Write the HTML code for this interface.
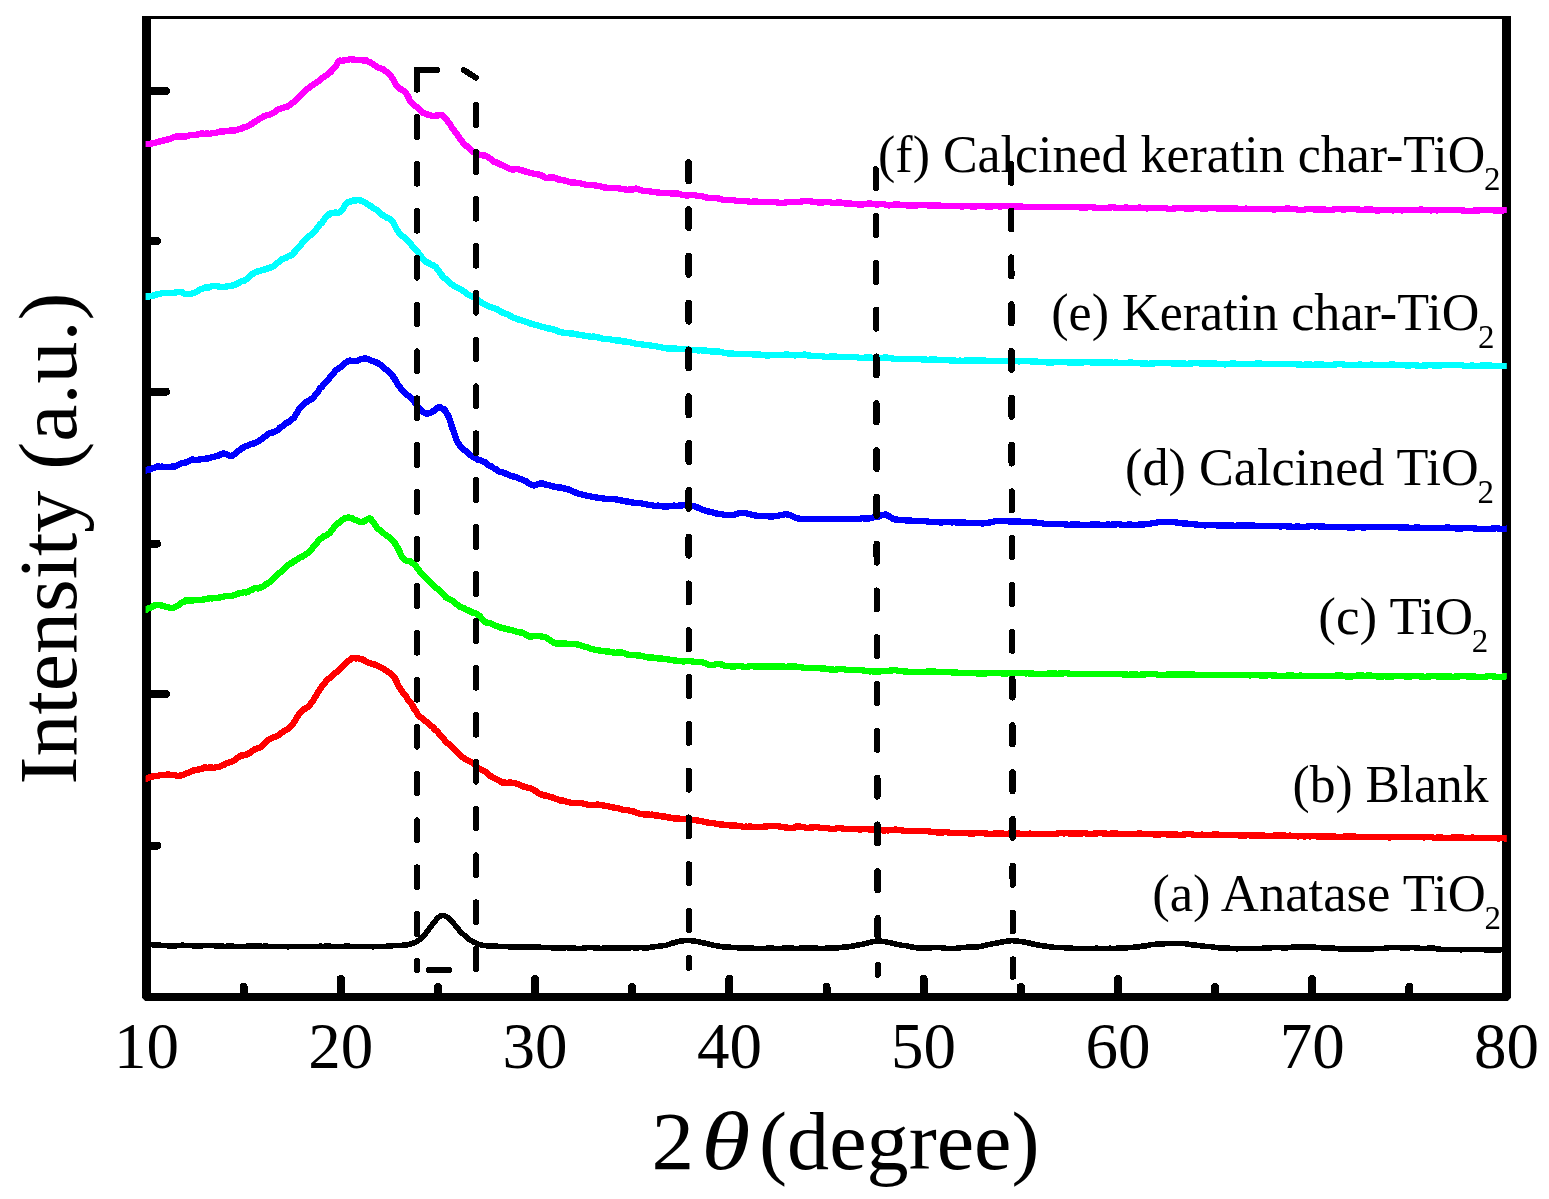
<!DOCTYPE html>
<html lang="en"><head><meta charset="utf-8"><title>XRD patterns</title>
<style>html,body{margin:0;padding:0;background:#fff}svg{display:block}</style></head>
<body>
<svg width="1549" height="1199" viewBox="0 0 1549 1199">
<rect width="1549" height="1199" fill="#fff"/>
<g fill="#000" shape-rendering="crispEdges">
<rect x="142" y="16" width="9" height="985"/>
<rect x="1502" y="16" width="9" height="985"/>
<rect x="142" y="16" width="1369" height="3"/>
<rect x="142" y="993" width="1369" height="8"/>
</g>
<path d="M142 1001h3.2l-3.2 -3.2z M1511 1001h-3.2l3.2 -3.2z" fill="#fff"/>
<g stroke="#000" stroke-width="8" stroke-linecap="round" fill="none" shape-rendering="crispEdges">
<line x1="243.6" y1="996" x2="243.6" y2="987"/>
<line x1="340.8" y1="996" x2="340.8" y2="979"/>
<line x1="437.9" y1="996" x2="437.9" y2="987"/>
<line x1="535.1" y1="996" x2="535.1" y2="979"/>
<line x1="632.2" y1="996" x2="632.2" y2="987"/>
<line x1="729.4" y1="996" x2="729.4" y2="979"/>
<line x1="826.5" y1="996" x2="826.5" y2="987"/>
<line x1="923.6" y1="996" x2="923.6" y2="979"/>
<line x1="1020.8" y1="996" x2="1020.8" y2="987"/>
<line x1="1117.9" y1="996" x2="1117.9" y2="979"/>
<line x1="1215.1" y1="996" x2="1215.1" y2="987"/>
<line x1="1312.2" y1="996" x2="1312.2" y2="979"/>
<line x1="1409.4" y1="996" x2="1409.4" y2="987"/>
<line x1="148" y1="91" x2="166" y2="91"/>
<line x1="148" y1="241" x2="157" y2="241"/>
<line x1="148" y1="391.7" x2="166" y2="391.7"/>
<line x1="148" y1="543.7" x2="157" y2="543.7"/>
<line x1="148" y1="694.2" x2="166" y2="694.2"/>
<line x1="148" y1="845.6" x2="157" y2="845.6"/>
</g>
<clipPath id="cp"><rect x="145.6" y="0" width="1361.2" height="1199"/></clipPath><clipPath id="cpa"><rect x="145.6" y="0" width="1357.4" height="1199"/></clipPath>
<polyline points="142.0,944.3 146.0,944.3 148.0,944.3 150.0,944.4 152.0,944.7 154.0,944.8 156.0,944.8 158.0,945.0 160.0,945.2 162.0,945.4 164.0,945.3 166.0,945.6 168.0,945.8 170.0,945.8 172.0,945.7 174.0,945.7 176.0,945.8 178.0,945.6 180.0,945.4 182.0,945.2 184.0,945.3 186.0,945.4 188.0,945.4 190.0,945.3 192.0,945.7 194.0,945.8 196.0,945.9 198.0,945.9 200.0,945.7 202.0,945.8 204.0,945.5 206.0,945.5 208.0,945.3 210.0,945.4 212.0,945.5 214.0,945.7 216.0,946.0 218.0,946.0 220.0,946.3 222.0,946.2 224.0,946.3 226.0,946.3 228.0,946.1 230.0,946.2 232.0,946.2 234.0,946.3 236.0,946.3 238.0,946.5 240.0,946.6 242.0,946.5 244.0,946.3 246.0,946.3 248.0,946.2 250.0,945.8 252.0,945.9 254.0,946.0 256.0,946.2 258.0,946.1 260.0,946.1 262.0,946.4 264.0,946.2 266.0,946.1 268.0,946.4 270.0,946.5 272.0,946.6 274.0,946.6 276.0,946.6 278.0,946.6 280.0,946.5 282.0,946.4 284.0,946.4 286.0,946.5 288.0,946.8 290.0,946.6 292.0,946.4 294.0,946.4 296.0,946.5 298.0,946.4 300.0,946.4 302.0,946.4 304.0,946.4 306.0,946.6 308.0,946.5 310.0,946.3 312.0,946.3 314.0,946.5 316.0,946.6 318.0,946.5 320.0,946.2 322.0,946.3 324.0,946.3 326.0,946.2 328.0,946.1 330.0,946.2 332.0,946.5 334.0,946.5 336.0,946.5 338.0,946.4 340.0,946.4 342.0,946.5 344.0,946.3 346.0,946.2 348.0,946.1 350.0,946.3 352.0,946.4 354.0,946.5 356.0,946.6 358.0,946.7 360.0,946.6 362.0,946.4 364.0,946.5 366.0,946.4 368.0,946.4 370.0,946.5 372.0,946.7 374.0,946.7 376.0,946.5 378.0,946.5 380.0,946.5 382.0,946.4 384.0,946.4 386.0,946.3 388.0,946.2 390.0,946.0 392.0,945.9 394.0,945.6 396.0,945.5 398.0,945.7 400.0,945.6 402.0,945.4 404.0,945.0 406.0,945.1 408.0,944.7 410.0,944.1 412.0,943.5 414.0,942.8 416.0,942.1 418.0,940.8 420.0,939.3 422.0,937.4 424.0,935.4 426.0,933.2 428.0,930.4 430.0,927.8 432.0,925.0 434.0,922.5 436.0,920.0 438.0,917.9 440.0,916.2 442.0,915.5 444.0,915.7 446.0,916.3 448.0,917.5 450.0,919.3 452.0,921.6 454.0,923.9 456.0,926.3 458.0,928.6 460.0,931.2 462.0,933.1 464.0,935.0 466.0,936.8 468.0,938.4 470.0,939.9 472.0,940.9 474.0,942.2 476.0,943.0 478.0,944.0 480.0,944.7 482.0,945.2 484.0,945.4 486.0,945.6 488.0,946.0 490.0,945.9 492.0,946.0 494.0,946.0 496.0,946.1 498.0,946.4 500.0,946.4 502.0,946.5 504.0,946.5 506.0,946.6 508.0,946.7 510.0,946.8 512.0,947.0 514.0,947.1 516.0,947.2 518.0,947.3 520.0,947.1 522.0,947.1 524.0,947.0 526.0,947.0 528.0,946.9 530.0,946.7 532.0,947.0 534.0,947.0 536.0,947.2 538.0,947.2 540.0,947.2 542.0,947.5 544.0,947.5 546.0,947.7 548.0,947.6 550.0,947.6 552.0,947.8 554.0,947.9 556.0,947.8 558.0,947.8 560.0,947.8 562.0,948.1 564.0,948.0 566.0,947.6 568.0,947.9 570.0,947.8 572.0,948.1 574.0,948.2 576.0,948.3 578.0,948.5 580.0,948.4 582.0,948.3 584.0,948.0 586.0,947.8 588.0,947.4 590.0,947.5 592.0,947.6 594.0,947.9 596.0,948.1 598.0,948.1 600.0,948.4 602.0,948.3 604.0,948.2 606.0,947.8 608.0,947.8 610.0,948.0 612.0,947.8 614.0,947.9 616.0,948.1 618.0,948.3 620.0,948.2 622.0,948.0 624.0,948.0 626.0,948.0 628.0,948.0 630.0,947.8 632.0,947.6 634.0,947.8 636.0,947.7 638.0,947.8 640.0,947.6 642.0,947.7 644.0,947.9 646.0,947.7 648.0,947.8 650.0,947.4 652.0,947.1 654.0,946.8 656.0,946.5 658.0,946.3 660.0,946.2 662.0,945.9 664.0,945.6 666.0,945.3 668.0,944.6 670.0,944.0 672.0,943.2 674.0,942.8 676.0,942.2 678.0,941.7 680.0,941.2 682.0,940.9 684.0,940.7 686.0,940.5 688.0,940.4 690.0,940.4 692.0,940.9 694.0,940.9 696.0,941.4 698.0,941.7 700.0,942.0 702.0,942.6 704.0,943.0 706.0,943.4 708.0,944.0 710.0,944.4 712.0,944.9 714.0,945.3 716.0,945.5 718.0,946.2 720.0,946.3 722.0,946.7 724.0,947.1 726.0,947.1 728.0,947.2 730.0,947.2 732.0,947.4 734.0,947.5 736.0,947.6 738.0,947.8 740.0,948.0 742.0,947.7 744.0,947.8 746.0,947.7 748.0,947.7 750.0,947.8 752.0,947.7 754.0,948.3 756.0,948.4 758.0,948.6 760.0,948.4 762.0,948.4 764.0,948.5 766.0,948.3 768.0,948.0 770.0,948.0 772.0,948.2 774.0,948.3 776.0,948.3 778.0,948.5 780.0,948.6 782.0,948.3 784.0,948.2 786.0,948.1 788.0,948.3 790.0,948.1 792.0,948.1 794.0,948.3 796.0,948.4 798.0,948.4 800.0,948.2 802.0,948.2 804.0,948.2 806.0,948.2 808.0,948.0 810.0,948.1 812.0,948.1 814.0,948.2 816.0,948.1 818.0,948.3 820.0,948.6 822.0,948.4 824.0,948.4 826.0,948.2 828.0,948.3 830.0,948.1 832.0,948.1 834.0,948.1 836.0,947.7 838.0,947.9 840.0,947.6 842.0,947.4 844.0,947.1 846.0,947.0 848.0,947.0 850.0,946.4 852.0,946.2 854.0,945.8 856.0,945.4 858.0,945.1 860.0,944.7 862.0,944.5 864.0,943.7 866.0,943.3 868.0,943.0 870.0,942.4 872.0,941.8 874.0,941.4 876.0,941.3 878.0,941.1 880.0,941.1 882.0,941.3 884.0,941.5 886.0,941.9 888.0,942.4 890.0,942.7 892.0,943.0 894.0,943.6 896.0,944.1 898.0,944.6 900.0,944.9 902.0,945.4 904.0,945.6 906.0,945.7 908.0,946.2 910.0,946.6 912.0,947.0 914.0,947.3 916.0,947.7 918.0,947.8 920.0,947.8 922.0,947.8 924.0,947.7 926.0,947.8 928.0,947.8 930.0,947.7 932.0,947.7 934.0,947.5 936.0,947.5 938.0,947.5 940.0,947.6 942.0,947.8 944.0,948.0 946.0,948.4 948.0,948.4 950.0,948.4 952.0,948.5 954.0,948.4 956.0,948.3 958.0,947.9 960.0,947.8 962.0,947.6 964.0,947.5 966.0,947.3 968.0,947.1 970.0,947.2 972.0,947.3 974.0,947.2 976.0,947.0 978.0,946.8 980.0,946.5 982.0,946.1 984.0,945.6 986.0,945.1 988.0,944.7 990.0,944.3 992.0,943.8 994.0,943.4 996.0,943.2 998.0,942.9 1000.0,942.4 1002.0,942.0 1004.0,941.7 1006.0,941.3 1008.0,940.8 1010.0,940.9 1012.0,940.6 1014.0,940.8 1016.0,940.9 1018.0,941.1 1020.0,941.5 1022.0,941.7 1024.0,942.2 1026.0,942.3 1028.0,942.9 1030.0,943.2 1032.0,943.9 1034.0,944.2 1036.0,944.6 1038.0,945.1 1040.0,945.4 1042.0,945.7 1044.0,945.8 1046.0,946.1 1048.0,946.5 1050.0,946.8 1052.0,947.0 1054.0,947.5 1056.0,947.4 1058.0,947.4 1060.0,947.5 1062.0,947.6 1064.0,947.7 1066.0,947.8 1068.0,947.9 1070.0,948.2 1072.0,948.2 1074.0,948.5 1076.0,948.7 1078.0,948.6 1080.0,948.7 1082.0,948.5 1084.0,948.6 1086.0,948.6 1088.0,948.3 1090.0,948.5 1092.0,948.4 1094.0,948.4 1096.0,948.2 1098.0,948.3 1100.0,948.4 1102.0,948.3 1104.0,948.4 1106.0,948.5 1108.0,948.5 1110.0,948.2 1112.0,948.4 1114.0,948.3 1116.0,948.3 1118.0,948.1 1120.0,948.2 1122.0,948.1 1124.0,947.9 1126.0,947.8 1128.0,947.7 1130.0,947.4 1132.0,947.4 1134.0,947.2 1136.0,947.1 1138.0,947.0 1140.0,946.7 1142.0,946.2 1144.0,946.0 1146.0,945.9 1148.0,945.4 1150.0,944.8 1152.0,944.5 1154.0,944.6 1156.0,944.2 1158.0,943.8 1160.0,943.7 1162.0,943.8 1164.0,943.8 1166.0,943.5 1168.0,943.4 1170.0,943.5 1172.0,943.6 1174.0,943.4 1176.0,943.3 1178.0,943.3 1180.0,943.5 1182.0,943.4 1184.0,943.5 1186.0,943.8 1188.0,944.2 1190.0,944.6 1192.0,944.8 1194.0,945.0 1196.0,945.2 1198.0,945.6 1200.0,945.7 1202.0,945.9 1204.0,946.2 1206.0,946.5 1208.0,946.7 1210.0,946.5 1212.0,946.9 1214.0,947.2 1216.0,947.5 1218.0,947.6 1220.0,948.0 1222.0,948.2 1224.0,948.3 1226.0,948.2 1228.0,948.2 1230.0,948.3 1232.0,948.4 1234.0,948.5 1236.0,948.7 1238.0,948.7 1240.0,948.6 1242.0,948.6 1244.0,948.3 1246.0,948.4 1248.0,948.3 1250.0,948.4 1252.0,948.5 1254.0,948.5 1256.0,948.6 1258.0,948.4 1260.0,948.4 1262.0,948.3 1264.0,948.1 1266.0,948.1 1268.0,948.0 1270.0,947.9 1272.0,947.7 1274.0,947.6 1276.0,947.7 1278.0,947.6 1280.0,947.6 1282.0,947.8 1284.0,948.0 1286.0,947.9 1288.0,947.7 1290.0,947.4 1292.0,947.2 1294.0,947.0 1296.0,947.0 1298.0,946.9 1300.0,947.0 1302.0,947.1 1304.0,947.2 1306.0,947.2 1308.0,947.2 1310.0,947.2 1312.0,947.2 1314.0,947.2 1316.0,947.3 1318.0,947.4 1320.0,947.4 1322.0,947.8 1324.0,947.9 1326.0,947.9 1328.0,948.0 1330.0,948.0 1332.0,948.2 1334.0,948.2 1336.0,948.5 1338.0,948.7 1340.0,948.8 1342.0,949.0 1344.0,949.1 1346.0,949.0 1348.0,948.9 1350.0,948.9 1352.0,949.0 1354.0,949.0 1356.0,949.0 1358.0,948.8 1360.0,949.0 1362.0,949.2 1364.0,949.3 1366.0,949.2 1368.0,949.0 1370.0,949.2 1372.0,948.9 1374.0,948.7 1376.0,948.4 1378.0,948.5 1380.0,948.6 1382.0,948.3 1384.0,948.3 1386.0,948.1 1388.0,947.9 1390.0,947.6 1392.0,947.4 1394.0,947.6 1396.0,947.3 1398.0,947.4 1400.0,947.7 1402.0,947.8 1404.0,947.8 1406.0,947.7 1408.0,947.8 1410.0,947.7 1412.0,947.6 1414.0,947.7 1416.0,948.0 1418.0,948.1 1420.0,948.4 1422.0,948.6 1424.0,948.5 1426.0,948.4 1428.0,948.2 1430.0,948.2 1432.0,948.3 1434.0,948.2 1436.0,948.7 1438.0,949.0 1440.0,949.2 1442.0,949.4 1444.0,949.4 1446.0,949.6 1448.0,949.4 1450.0,949.3 1452.0,949.3 1454.0,949.4 1456.0,949.6 1458.0,949.6 1460.0,949.7 1462.0,949.7 1464.0,949.5 1466.0,949.6 1468.0,949.3 1470.0,949.3 1472.0,949.5 1474.0,949.6 1476.0,949.6 1478.0,949.4 1480.0,949.7 1482.0,949.6 1484.0,949.7 1486.0,949.7 1488.0,949.8 1490.0,950.1 1492.0,950.0 1494.0,950.1 1496.0,949.8 1498.0,949.9 1500.0,949.8 1502.0,949.6 1502.8,949.5 1506.8,949.5" fill="none" stroke="#000000" stroke-width="5.6" stroke-linejoin="round" stroke-linecap="butt" shape-rendering="crispEdges" clip-path="url(#cpa)"/>
<polyline points="142.0,779.1 146.0,779.1 148.0,777.8 150.0,777.1 152.0,776.7 154.0,775.9 156.0,775.9 158.0,775.8 160.0,775.3 162.0,775.0 164.0,775.1 166.0,774.7 168.0,774.3 170.0,774.8 172.0,774.7 174.0,775.1 176.0,775.5 178.0,776.1 180.0,775.7 182.0,774.9 184.0,774.5 186.0,773.4 188.0,773.0 190.0,772.0 192.0,771.1 194.0,770.3 196.0,769.9 198.0,769.6 200.0,769.1 202.0,768.7 204.0,767.6 206.0,767.6 208.0,767.8 210.0,767.5 212.0,767.6 214.0,767.8 216.0,767.3 218.0,767.2 220.0,766.5 222.0,765.5 224.0,764.8 226.0,763.5 228.0,762.7 230.0,762.2 232.0,761.6 234.0,760.6 236.0,759.2 238.0,757.6 240.0,755.9 242.0,755.3 244.0,755.3 246.0,754.7 248.0,753.7 250.0,752.8 252.0,751.1 254.0,749.9 256.0,748.7 258.0,748.2 260.0,747.4 262.0,745.9 264.0,744.5 266.0,742.2 268.0,740.2 270.0,739.0 272.0,737.9 274.0,737.3 276.0,736.6 278.0,735.5 280.0,734.3 282.0,732.4 284.0,731.3 286.0,730.0 288.0,729.1 290.0,727.1 292.0,724.9 294.0,722.3 296.0,719.1 298.0,715.9 300.0,712.8 302.0,710.8 304.0,709.3 306.0,708.2 308.0,707.0 310.0,704.7 312.0,702.0 314.0,699.1 316.0,695.8 318.0,692.4 320.0,689.1 322.0,686.5 324.0,683.8 326.0,681.5 328.0,679.1 330.0,677.7 332.0,675.7 334.0,673.7 336.0,672.6 338.0,670.6 340.0,668.9 342.0,667.4 344.0,665.2 346.0,663.2 348.0,661.1 350.0,659.7 352.0,658.2 354.0,657.9 356.0,658.4 358.0,658.0 360.0,658.9 362.0,659.2 364.0,660.2 366.0,661.6 368.0,662.4 370.0,663.2 372.0,663.7 374.0,664.3 376.0,665.2 378.0,665.8 380.0,667.1 382.0,667.9 384.0,669.1 386.0,670.5 388.0,671.8 390.0,673.1 392.0,675.1 394.0,676.7 396.0,680.2 398.0,685.1 400.0,688.0 402.0,691.4 404.0,694.4 406.0,695.7 408.0,699.7 410.0,701.6 412.0,704.5 414.0,708.6 416.0,711.3 418.0,714.9 420.0,716.9 422.0,718.2 424.0,720.1 426.0,721.5 428.0,723.0 430.0,725.2 432.0,726.4 434.0,728.5 436.0,730.6 438.0,732.1 440.0,735.0 442.0,737.5 444.0,739.3 446.0,741.9 448.0,743.4 450.0,745.1 452.0,747.4 454.0,749.0 456.0,751.3 458.0,753.0 460.0,754.9 462.0,756.7 464.0,758.1 466.0,759.6 468.0,760.5 470.0,761.4 472.0,762.5 474.0,764.2 476.0,766.1 478.0,768.1 480.0,769.2 482.0,770.1 484.0,770.9 486.0,772.0 488.0,773.9 490.0,775.7 492.0,776.8 494.0,778.0 496.0,779.2 498.0,780.1 500.0,781.2 502.0,782.5 504.0,782.4 506.0,782.7 508.0,783.0 510.0,782.3 512.0,783.0 514.0,783.1 516.0,783.5 518.0,784.3 520.0,784.9 522.0,785.9 524.0,786.7 526.0,787.1 528.0,787.7 530.0,788.0 532.0,788.9 534.0,790.3 536.0,791.1 538.0,793.0 540.0,793.9 542.0,794.7 544.0,795.4 546.0,795.4 548.0,796.2 550.0,797.0 552.0,797.2 554.0,798.3 556.0,798.8 558.0,799.5 560.0,800.4 562.0,800.5 564.0,800.8 566.0,801.5 568.0,802.0 570.0,802.5 572.0,803.2 574.0,803.1 576.0,803.0 578.0,803.1 580.0,802.9 582.0,803.2 584.0,803.7 586.0,804.3 588.0,804.8 590.0,805.0 592.0,804.7 594.0,804.8 596.0,804.8 598.0,804.5 600.0,805.0 602.0,805.3 604.0,805.6 606.0,805.9 608.0,806.2 610.0,807.0 612.0,807.2 614.0,807.6 616.0,808.1 618.0,808.2 620.0,809.0 622.0,809.5 624.0,810.0 626.0,810.1 628.0,810.2 630.0,810.8 632.0,811.0 634.0,811.7 636.0,812.5 638.0,813.1 640.0,813.7 642.0,814.0 644.0,814.4 646.0,814.5 648.0,814.3 650.0,814.8 652.0,814.6 654.0,815.1 656.0,815.6 658.0,815.6 660.0,816.0 662.0,816.6 664.0,816.3 666.0,816.8 668.0,817.5 670.0,817.5 672.0,818.2 674.0,818.4 676.0,818.5 678.0,818.4 680.0,818.7 682.0,818.7 684.0,818.7 686.0,819.2 688.0,819.6 690.0,819.8 692.0,820.0 694.0,820.2 696.0,820.2 698.0,820.6 700.0,820.9 702.0,821.2 704.0,822.0 706.0,822.3 708.0,822.4 710.0,823.1 712.0,822.9 714.0,823.3 716.0,823.9 718.0,823.9 720.0,824.4 722.0,824.4 724.0,824.7 726.0,825.3 728.0,825.0 730.0,825.4 732.0,825.6 734.0,825.2 736.0,825.5 738.0,826.0 740.0,825.9 742.0,826.6 744.0,827.0 746.0,826.6 748.0,826.8 750.0,826.5 752.0,826.7 754.0,826.8 756.0,826.7 758.0,826.7 760.0,826.7 762.0,826.8 764.0,826.6 766.0,826.5 768.0,826.3 770.0,826.0 772.0,826.1 774.0,826.1 776.0,826.0 778.0,826.3 780.0,826.6 782.0,826.8 784.0,827.3 786.0,827.3 788.0,827.8 790.0,828.1 792.0,827.8 794.0,827.8 796.0,826.6 798.0,826.4 800.0,826.4 802.0,827.0 804.0,827.3 806.0,827.8 808.0,827.8 810.0,827.6 812.0,827.5 814.0,827.2 816.0,827.2 818.0,827.3 820.0,827.9 822.0,827.7 824.0,828.1 826.0,828.1 828.0,828.3 830.0,828.8 832.0,828.9 834.0,828.9 836.0,828.5 838.0,828.1 840.0,828.2 842.0,828.4 844.0,828.8 846.0,829.1 848.0,828.8 850.0,828.8 852.0,828.7 854.0,828.7 856.0,829.2 858.0,829.3 860.0,829.3 862.0,829.3 864.0,828.7 866.0,828.9 868.0,829.2 870.0,829.5 872.0,829.7 874.0,829.5 876.0,829.2 878.0,829.6 880.0,829.7 882.0,830.3 884.0,830.5 886.0,830.2 888.0,830.4 890.0,829.9 892.0,829.8 894.0,829.7 896.0,829.6 898.0,829.8 900.0,830.1 902.0,830.5 904.0,830.7 906.0,830.7 908.0,830.8 910.0,830.7 912.0,830.7 914.0,830.9 916.0,830.9 918.0,831.1 920.0,831.1 922.0,830.8 924.0,830.7 926.0,830.9 928.0,831.1 930.0,831.6 932.0,831.9 934.0,832.1 936.0,832.3 938.0,832.3 940.0,832.4 942.0,832.3 944.0,832.3 946.0,832.1 948.0,832.4 950.0,832.7 952.0,832.7 954.0,833.2 956.0,833.1 958.0,833.0 960.0,833.1 962.0,832.8 964.0,832.9 966.0,833.0 968.0,833.3 970.0,833.5 972.0,833.5 974.0,833.5 976.0,833.1 978.0,833.0 980.0,832.8 982.0,833.0 984.0,833.2 986.0,833.5 988.0,833.7 990.0,833.7 992.0,833.8 994.0,833.6 996.0,833.6 998.0,833.6 1000.0,833.5 1002.0,833.5 1004.0,833.8 1006.0,833.7 1008.0,833.7 1010.0,833.6 1012.0,833.0 1014.0,833.2 1016.0,833.3 1018.0,833.4 1020.0,833.9 1022.0,834.1 1024.0,834.0 1026.0,834.1 1028.0,833.9 1030.0,833.6 1032.0,833.8 1034.0,833.7 1036.0,833.8 1038.0,833.8 1040.0,833.8 1042.0,834.0 1044.0,833.9 1046.0,833.9 1048.0,833.9 1050.0,834.0 1052.0,833.9 1054.0,833.9 1056.0,833.7 1058.0,833.4 1060.0,833.2 1062.0,833.2 1064.0,833.4 1066.0,833.2 1068.0,833.3 1070.0,833.4 1072.0,833.4 1074.0,833.6 1076.0,833.7 1078.0,833.6 1080.0,833.4 1082.0,833.4 1084.0,833.2 1086.0,833.4 1088.0,833.8 1090.0,834.0 1092.0,833.8 1094.0,833.6 1096.0,833.3 1098.0,833.3 1100.0,833.2 1102.0,833.3 1104.0,833.5 1106.0,833.6 1108.0,833.9 1110.0,833.7 1112.0,833.5 1114.0,833.4 1116.0,833.5 1118.0,833.8 1120.0,834.0 1122.0,834.3 1124.0,834.1 1126.0,834.1 1128.0,834.3 1130.0,834.1 1132.0,834.3 1134.0,833.9 1136.0,833.8 1138.0,833.6 1140.0,833.6 1142.0,833.7 1144.0,833.8 1146.0,834.0 1148.0,834.2 1150.0,834.2 1152.0,834.1 1154.0,834.4 1156.0,834.4 1158.0,834.5 1160.0,834.4 1162.0,834.2 1164.0,834.1 1166.0,834.1 1168.0,834.6 1170.0,834.5 1172.0,834.5 1174.0,834.4 1176.0,834.4 1178.0,834.7 1180.0,834.7 1182.0,834.8 1184.0,834.4 1186.0,834.3 1188.0,834.1 1190.0,834.0 1192.0,834.4 1194.0,834.8 1196.0,835.0 1198.0,835.0 1200.0,834.8 1202.0,834.6 1204.0,834.8 1206.0,835.0 1208.0,835.1 1210.0,835.2 1212.0,834.7 1214.0,834.6 1216.0,834.4 1218.0,834.5 1220.0,834.9 1222.0,834.9 1224.0,835.0 1226.0,835.2 1228.0,835.1 1230.0,835.1 1232.0,835.2 1234.0,834.9 1236.0,835.0 1238.0,835.2 1240.0,835.5 1242.0,835.4 1244.0,835.5 1246.0,835.4 1248.0,835.2 1250.0,835.4 1252.0,835.4 1254.0,835.6 1256.0,835.6 1258.0,835.6 1260.0,835.7 1262.0,835.6 1264.0,835.6 1266.0,835.8 1268.0,835.8 1270.0,835.9 1272.0,835.9 1274.0,835.6 1276.0,835.5 1278.0,835.4 1280.0,835.4 1282.0,835.5 1284.0,835.5 1286.0,835.7 1288.0,835.8 1290.0,835.6 1292.0,836.1 1294.0,836.1 1296.0,836.0 1298.0,836.4 1300.0,836.2 1302.0,836.1 1304.0,836.5 1306.0,836.2 1308.0,836.2 1310.0,836.4 1312.0,836.0 1314.0,836.2 1316.0,836.2 1318.0,836.5 1320.0,836.5 1322.0,836.6 1324.0,836.6 1326.0,836.3 1328.0,836.3 1330.0,836.4 1332.0,836.3 1334.0,836.4 1336.0,836.8 1338.0,836.9 1340.0,836.9 1342.0,836.9 1344.0,836.6 1346.0,836.5 1348.0,836.5 1350.0,836.4 1352.0,836.6 1354.0,836.5 1356.0,836.7 1358.0,837.1 1360.0,837.1 1362.0,837.3 1364.0,837.0 1366.0,836.9 1368.0,837.1 1370.0,837.1 1372.0,837.1 1374.0,836.9 1376.0,836.7 1378.0,836.9 1380.0,836.8 1382.0,836.9 1384.0,837.1 1386.0,837.2 1388.0,837.3 1390.0,837.4 1392.0,837.2 1394.0,837.2 1396.0,837.2 1398.0,837.1 1400.0,837.2 1402.0,837.3 1404.0,837.1 1406.0,837.1 1408.0,836.9 1410.0,837.0 1412.0,837.0 1414.0,836.8 1416.0,836.8 1418.0,836.9 1420.0,837.0 1422.0,837.2 1424.0,837.4 1426.0,836.9 1428.0,837.1 1430.0,837.2 1432.0,837.2 1434.0,837.7 1436.0,837.7 1438.0,837.6 1440.0,837.6 1442.0,837.5 1444.0,837.9 1446.0,837.9 1448.0,838.0 1450.0,837.9 1452.0,837.6 1454.0,837.7 1456.0,837.6 1458.0,837.5 1460.0,837.7 1462.0,837.4 1464.0,837.9 1466.0,837.7 1468.0,837.8 1470.0,838.0 1472.0,837.5 1474.0,837.8 1476.0,837.8 1478.0,838.0 1480.0,838.0 1482.0,837.9 1484.0,838.0 1486.0,838.0 1488.0,838.1 1490.0,838.0 1492.0,838.1 1494.0,837.9 1496.0,838.1 1498.0,838.5 1500.0,838.2 1502.0,838.2 1504.0,838.3 1506.0,838.5 1506.6,838.2 1510.6,838.2" fill="none" stroke="#ff0000" stroke-width="6.4" stroke-linejoin="round" stroke-linecap="butt" shape-rendering="crispEdges" clip-path="url(#cp)"/>
<polyline points="142.0,610.2 146.0,610.2 148.0,608.4 150.0,607.8 152.0,607.2 154.0,605.6 156.0,605.1 158.0,604.7 160.0,605.2 162.0,605.5 164.0,606.3 166.0,606.9 168.0,607.0 170.0,608.2 172.0,608.1 174.0,607.5 176.0,606.4 178.0,605.5 180.0,604.4 182.0,602.5 184.0,601.8 186.0,600.2 188.0,600.4 190.0,600.6 192.0,600.3 194.0,600.3 196.0,600.0 198.0,600.0 200.0,600.1 202.0,600.0 204.0,599.3 206.0,599.2 208.0,598.7 210.0,598.1 212.0,598.4 214.0,597.7 216.0,597.8 218.0,598.0 220.0,597.4 222.0,597.2 224.0,596.5 226.0,596.0 228.0,595.9 230.0,595.9 232.0,595.8 234.0,595.1 236.0,594.6 238.0,593.6 240.0,593.1 242.0,592.8 244.0,592.1 246.0,592.4 248.0,591.8 250.0,590.4 252.0,589.9 254.0,588.4 256.0,587.8 258.0,588.6 260.0,587.6 262.0,587.2 264.0,585.8 266.0,584.2 268.0,583.3 270.0,582.0 272.0,580.0 274.0,578.3 276.0,575.8 278.0,573.6 280.0,572.5 282.0,570.7 284.0,569.1 286.0,567.3 288.0,565.4 290.0,563.7 292.0,562.9 294.0,561.3 296.0,560.1 298.0,559.0 300.0,557.5 302.0,556.7 304.0,555.6 306.0,554.2 308.0,552.7 310.0,550.9 312.0,548.8 314.0,545.8 316.0,543.7 318.0,541.4 320.0,539.0 322.0,538.0 324.0,536.2 326.0,535.4 328.0,534.2 330.0,532.7 332.0,529.9 334.0,527.2 336.0,525.1 338.0,523.3 340.0,522.1 342.0,520.2 344.0,518.7 346.0,517.8 348.0,517.6 350.0,517.7 352.0,518.3 354.0,519.4 356.0,520.2 358.0,521.1 360.0,522.2 362.0,522.0 364.0,521.4 366.0,520.1 368.0,518.7 370.0,518.5 372.0,520.5 374.0,523.3 376.0,526.3 378.0,528.7 380.0,530.2 382.0,532.3 384.0,533.6 386.0,535.2 388.0,536.4 390.0,538.0 392.0,539.8 394.0,541.9 396.0,545.1 398.0,548.3 400.0,552.6 402.0,556.8 404.0,558.8 406.0,560.6 408.0,561.3 410.0,561.2 412.0,562.7 414.0,564.2 416.0,566.1 418.0,569.4 420.0,571.5 422.0,574.0 424.0,576.5 426.0,577.8 428.0,580.3 430.0,582.3 432.0,584.1 434.0,586.2 436.0,588.2 438.0,589.0 440.0,591.1 442.0,593.3 444.0,595.1 446.0,597.7 448.0,598.5 450.0,599.5 452.0,600.6 454.0,601.7 456.0,603.9 458.0,605.2 460.0,606.7 462.0,607.5 464.0,608.3 466.0,609.6 468.0,610.2 470.0,611.2 472.0,612.4 474.0,612.7 476.0,613.5 478.0,614.8 480.0,616.3 482.0,619.1 484.0,621.1 486.0,622.4 488.0,622.8 490.0,623.3 492.0,623.7 494.0,625.0 496.0,626.1 498.0,626.4 500.0,627.4 502.0,627.8 504.0,628.4 506.0,628.7 508.0,629.5 510.0,629.8 512.0,629.9 514.0,631.1 516.0,631.5 518.0,632.0 520.0,632.4 522.0,632.6 524.0,633.5 526.0,634.7 528.0,635.7 530.0,636.7 532.0,636.4 534.0,636.1 536.0,636.3 538.0,635.9 540.0,636.2 542.0,636.6 544.0,636.9 546.0,637.5 548.0,638.8 550.0,639.9 552.0,641.6 554.0,643.0 556.0,643.4 558.0,643.7 560.0,643.5 562.0,643.4 564.0,643.5 566.0,643.6 568.0,643.9 570.0,644.3 572.0,644.2 574.0,644.2 576.0,644.3 578.0,644.5 580.0,645.2 582.0,645.7 584.0,646.5 586.0,647.1 588.0,647.5 590.0,648.4 592.0,649.0 594.0,649.4 596.0,650.2 598.0,650.2 600.0,650.6 602.0,651.0 604.0,651.0 606.0,651.4 608.0,651.3 610.0,651.7 612.0,652.2 614.0,652.6 616.0,652.9 618.0,652.4 620.0,652.7 622.0,652.6 624.0,653.0 626.0,654.2 628.0,654.5 630.0,655.1 632.0,655.2 634.0,655.2 636.0,655.3 638.0,655.5 640.0,655.6 642.0,656.1 644.0,656.5 646.0,657.0 648.0,657.4 650.0,657.4 652.0,657.6 654.0,657.7 656.0,658.2 658.0,658.4 660.0,658.5 662.0,658.5 664.0,658.9 666.0,659.0 668.0,659.3 670.0,660.0 672.0,660.0 674.0,660.4 676.0,660.6 678.0,661.0 680.0,661.1 682.0,661.3 684.0,661.5 686.0,661.0 688.0,660.9 690.0,661.0 692.0,661.4 694.0,661.8 696.0,662.1 698.0,662.0 700.0,662.1 702.0,662.1 704.0,662.8 706.0,663.5 708.0,664.4 710.0,665.1 712.0,665.0 714.0,664.9 716.0,663.9 718.0,663.8 720.0,664.1 722.0,664.6 724.0,665.6 726.0,666.0 728.0,666.2 730.0,666.3 732.0,666.6 734.0,666.4 736.0,666.3 738.0,666.0 740.0,666.1 742.0,666.5 744.0,666.8 746.0,666.9 748.0,666.6 750.0,666.3 752.0,666.2 754.0,666.4 756.0,666.5 758.0,666.5 760.0,666.6 762.0,666.7 764.0,666.6 766.0,666.6 768.0,666.4 770.0,666.5 772.0,666.5 774.0,666.6 776.0,666.7 778.0,666.2 780.0,666.5 782.0,666.3 784.0,666.5 786.0,667.0 788.0,666.5 790.0,666.6 792.0,666.5 794.0,666.3 796.0,666.5 798.0,666.9 800.0,667.1 802.0,667.4 804.0,667.7 806.0,667.7 808.0,667.7 810.0,667.8 812.0,668.1 814.0,668.2 816.0,668.3 818.0,668.2 820.0,668.3 822.0,668.4 824.0,668.6 826.0,668.7 828.0,668.9 830.0,669.4 832.0,669.5 834.0,669.8 836.0,669.8 838.0,668.9 840.0,669.1 842.0,669.0 844.0,669.2 846.0,669.8 848.0,669.7 850.0,669.8 852.0,669.7 854.0,669.7 856.0,669.9 858.0,669.8 860.0,669.8 862.0,670.1 864.0,670.6 866.0,671.1 868.0,671.2 870.0,671.4 872.0,671.2 874.0,671.5 876.0,671.7 878.0,671.5 880.0,671.4 882.0,671.2 884.0,671.1 886.0,671.2 888.0,671.0 890.0,670.6 892.0,670.5 894.0,670.1 896.0,670.3 898.0,670.8 900.0,670.8 902.0,671.2 904.0,671.4 906.0,671.4 908.0,671.9 910.0,672.1 912.0,671.9 914.0,672.0 916.0,671.9 918.0,671.8 920.0,672.1 922.0,671.9 924.0,671.8 926.0,671.7 928.0,671.5 930.0,671.6 932.0,671.5 934.0,671.5 936.0,671.8 938.0,671.8 940.0,672.1 942.0,672.1 944.0,671.9 946.0,671.9 948.0,671.9 950.0,672.1 952.0,672.4 954.0,672.5 956.0,672.6 958.0,672.7 960.0,672.7 962.0,672.7 964.0,672.9 966.0,673.0 968.0,672.9 970.0,673.0 972.0,673.0 974.0,673.1 976.0,673.3 978.0,673.3 980.0,673.4 982.0,673.3 984.0,673.4 986.0,673.4 988.0,673.0 990.0,673.2 992.0,673.0 994.0,672.9 996.0,673.2 998.0,672.9 1000.0,673.2 1002.0,673.4 1004.0,673.3 1006.0,673.5 1008.0,673.2 1010.0,673.4 1012.0,673.5 1014.0,673.1 1016.0,673.2 1018.0,672.9 1020.0,673.0 1022.0,673.0 1024.0,673.1 1026.0,673.4 1028.0,673.2 1030.0,673.7 1032.0,673.6 1034.0,673.7 1036.0,674.0 1038.0,673.8 1040.0,674.1 1042.0,673.8 1044.0,673.7 1046.0,673.9 1048.0,673.6 1050.0,673.3 1052.0,673.7 1054.0,673.6 1056.0,673.6 1058.0,673.9 1060.0,673.4 1062.0,673.3 1064.0,673.3 1066.0,673.2 1068.0,673.4 1070.0,673.8 1072.0,673.8 1074.0,674.0 1076.0,674.0 1078.0,673.8 1080.0,673.9 1082.0,673.7 1084.0,673.8 1086.0,674.0 1088.0,674.0 1090.0,673.9 1092.0,673.8 1094.0,673.7 1096.0,673.8 1098.0,673.9 1100.0,673.8 1102.0,674.1 1104.0,674.1 1106.0,674.0 1108.0,674.3 1110.0,674.2 1112.0,674.0 1114.0,674.2 1116.0,673.9 1118.0,673.9 1120.0,673.9 1122.0,674.2 1124.0,674.5 1126.0,674.5 1128.0,674.8 1130.0,674.6 1132.0,674.4 1134.0,674.6 1136.0,674.4 1138.0,674.8 1140.0,674.8 1142.0,674.5 1144.0,674.7 1146.0,674.3 1148.0,674.2 1150.0,674.0 1152.0,674.0 1154.0,674.2 1156.0,674.3 1158.0,674.9 1160.0,675.0 1162.0,674.9 1164.0,674.9 1166.0,674.7 1168.0,674.5 1170.0,674.6 1172.0,674.6 1174.0,674.5 1176.0,674.6 1178.0,674.5 1180.0,674.3 1182.0,674.6 1184.0,674.5 1186.0,674.3 1188.0,674.3 1190.0,674.5 1192.0,674.3 1194.0,674.6 1196.0,674.9 1198.0,674.7 1200.0,674.8 1202.0,674.7 1204.0,674.7 1206.0,674.7 1208.0,674.8 1210.0,674.7 1212.0,674.8 1214.0,674.9 1216.0,675.0 1218.0,675.1 1220.0,675.1 1222.0,674.9 1224.0,675.0 1226.0,674.9 1228.0,674.9 1230.0,674.9 1232.0,674.7 1234.0,674.9 1236.0,674.9 1238.0,674.9 1240.0,675.1 1242.0,674.9 1244.0,674.9 1246.0,675.0 1248.0,675.0 1250.0,675.4 1252.0,675.2 1254.0,675.0 1256.0,675.0 1258.0,674.9 1260.0,675.4 1262.0,675.7 1264.0,675.5 1266.0,675.6 1268.0,675.2 1270.0,675.0 1272.0,675.4 1274.0,675.4 1276.0,675.6 1278.0,675.9 1280.0,675.8 1282.0,675.8 1284.0,675.9 1286.0,675.7 1288.0,675.3 1290.0,675.5 1292.0,675.5 1294.0,675.8 1296.0,676.0 1298.0,675.8 1300.0,675.6 1302.0,675.7 1304.0,675.8 1306.0,675.9 1308.0,676.0 1310.0,676.0 1312.0,676.0 1314.0,676.0 1316.0,675.8 1318.0,675.8 1320.0,676.0 1322.0,675.9 1324.0,676.0 1326.0,676.1 1328.0,675.9 1330.0,676.1 1332.0,675.9 1334.0,675.9 1336.0,675.6 1338.0,675.4 1340.0,675.7 1342.0,675.6 1344.0,675.9 1346.0,676.5 1348.0,676.5 1350.0,676.7 1352.0,676.5 1354.0,676.0 1356.0,675.7 1358.0,675.6 1360.0,675.6 1362.0,675.6 1364.0,675.7 1366.0,675.7 1368.0,675.6 1370.0,675.6 1372.0,675.7 1374.0,675.8 1376.0,676.2 1378.0,676.5 1380.0,676.4 1382.0,676.5 1384.0,676.2 1386.0,676.4 1388.0,676.6 1390.0,676.5 1392.0,676.5 1394.0,676.3 1396.0,675.9 1398.0,675.8 1400.0,676.1 1402.0,676.1 1404.0,676.3 1406.0,676.5 1408.0,676.3 1410.0,676.3 1412.0,676.3 1414.0,676.1 1416.0,676.3 1418.0,676.1 1420.0,676.5 1422.0,676.5 1424.0,676.8 1426.0,676.7 1428.0,676.6 1430.0,676.5 1432.0,676.1 1434.0,676.2 1436.0,676.3 1438.0,676.3 1440.0,676.6 1442.0,676.5 1444.0,676.4 1446.0,676.7 1448.0,676.6 1450.0,676.5 1452.0,676.7 1454.0,676.7 1456.0,676.6 1458.0,676.7 1460.0,676.3 1462.0,676.0 1464.0,676.1 1466.0,676.3 1468.0,676.3 1470.0,676.5 1472.0,676.6 1474.0,676.6 1476.0,676.7 1478.0,677.0 1480.0,676.8 1482.0,676.9 1484.0,676.9 1486.0,676.5 1488.0,676.3 1490.0,676.2 1492.0,676.3 1494.0,676.5 1496.0,676.8 1498.0,676.9 1500.0,677.0 1502.0,676.8 1504.0,676.4 1506.0,676.3 1506.6,676.2 1510.6,676.2" fill="none" stroke="#00ff00" stroke-width="6.4" stroke-linejoin="round" stroke-linecap="butt" shape-rendering="crispEdges" clip-path="url(#cp)"/>
<polyline points="142.0,470.6 146.0,470.6 148.0,469.6 150.0,469.6 152.0,468.6 154.0,468.0 156.0,467.1 158.0,466.0 160.0,466.8 162.0,466.6 164.0,467.0 166.0,467.3 168.0,466.7 170.0,466.8 172.0,466.6 174.0,466.7 176.0,465.8 178.0,465.2 180.0,463.9 182.0,463.2 184.0,463.3 186.0,462.3 188.0,461.5 190.0,460.4 192.0,459.6 194.0,459.7 196.0,459.7 198.0,460.1 200.0,459.3 202.0,458.8 204.0,459.1 206.0,458.4 208.0,458.5 210.0,457.8 212.0,457.0 214.0,457.0 216.0,456.0 218.0,455.7 220.0,454.8 222.0,453.7 224.0,453.6 226.0,454.1 228.0,455.2 230.0,455.8 232.0,455.7 234.0,454.6 236.0,452.6 238.0,451.1 240.0,449.8 242.0,448.2 244.0,447.2 246.0,446.0 248.0,445.5 250.0,444.6 252.0,444.0 254.0,443.3 256.0,442.5 258.0,441.4 260.0,440.0 262.0,438.9 264.0,437.1 266.0,435.8 268.0,434.2 270.0,433.1 272.0,432.7 274.0,432.0 276.0,430.9 278.0,429.8 280.0,427.5 282.0,426.5 284.0,425.2 286.0,422.7 288.0,422.6 290.0,421.1 292.0,419.3 294.0,418.0 296.0,414.3 298.0,410.9 300.0,408.1 302.0,405.7 304.0,404.0 306.0,402.3 308.0,401.3 310.0,399.9 312.0,398.7 314.0,396.6 316.0,394.4 318.0,391.6 320.0,388.3 322.0,386.6 324.0,383.9 326.0,382.4 328.0,380.4 330.0,377.4 332.0,375.2 334.0,372.6 336.0,370.3 338.0,368.9 340.0,367.5 342.0,365.8 344.0,364.0 346.0,362.4 348.0,361.0 350.0,360.6 352.0,361.2 354.0,361.2 356.0,361.0 358.0,360.6 360.0,359.4 362.0,358.9 364.0,358.5 366.0,358.5 368.0,359.0 370.0,360.0 372.0,360.8 374.0,361.6 376.0,362.2 378.0,363.3 380.0,364.5 382.0,366.3 384.0,368.2 386.0,369.6 388.0,371.1 390.0,372.6 392.0,375.4 394.0,377.6 396.0,381.3 398.0,385.0 400.0,387.4 402.0,390.4 404.0,392.4 406.0,393.6 408.0,395.5 410.0,397.0 412.0,398.7 414.0,401.4 416.0,404.2 418.0,407.2 420.0,409.5 422.0,410.6 424.0,412.5 426.0,413.4 428.0,413.4 430.0,413.2 432.0,411.8 434.0,410.7 436.0,409.3 438.0,407.4 440.0,407.1 442.0,408.5 444.0,409.2 446.0,411.8 448.0,415.3 450.0,420.1 452.0,427.2 454.0,432.4 456.0,438.5 458.0,443.2 460.0,445.5 462.0,448.1 464.0,450.0 466.0,451.2 468.0,453.3 470.0,454.6 472.0,456.3 474.0,457.4 476.0,458.4 478.0,459.8 480.0,459.8 482.0,461.3 484.0,461.8 486.0,462.8 488.0,465.1 490.0,465.8 492.0,466.8 494.0,468.4 496.0,469.0 498.0,470.7 500.0,472.1 502.0,472.2 504.0,473.0 506.0,473.7 508.0,474.6 510.0,475.6 512.0,476.3 514.0,476.6 516.0,476.8 518.0,478.1 520.0,478.9 522.0,479.4 524.0,480.4 526.0,481.2 528.0,482.7 530.0,484.1 532.0,485.1 534.0,485.5 536.0,484.9 538.0,484.0 540.0,483.7 542.0,483.1 544.0,483.8 546.0,484.7 548.0,484.9 550.0,485.4 552.0,486.3 554.0,486.6 556.0,486.9 558.0,487.6 560.0,487.5 562.0,487.8 564.0,488.4 566.0,488.9 568.0,489.2 570.0,490.2 572.0,491.0 574.0,491.8 576.0,492.7 578.0,493.4 580.0,494.0 582.0,494.5 584.0,495.0 586.0,495.6 588.0,495.8 590.0,496.1 592.0,496.9 594.0,496.9 596.0,497.4 598.0,497.9 600.0,497.9 602.0,498.2 604.0,498.6 606.0,498.9 608.0,498.8 610.0,499.0 612.0,499.0 614.0,498.9 616.0,499.4 618.0,499.7 620.0,500.2 622.0,500.5 624.0,501.0 626.0,501.5 628.0,501.5 630.0,502.0 632.0,502.5 634.0,502.8 636.0,503.1 638.0,503.3 640.0,503.1 642.0,503.4 644.0,504.0 646.0,504.2 648.0,504.7 650.0,505.2 652.0,505.2 654.0,505.7 656.0,505.8 658.0,505.6 660.0,505.8 662.0,506.3 664.0,506.5 666.0,506.5 668.0,506.4 670.0,505.8 672.0,505.8 674.0,505.6 676.0,505.9 678.0,505.7 680.0,505.6 682.0,505.5 684.0,505.1 686.0,504.8 688.0,504.8 690.0,505.3 692.0,505.7 694.0,506.2 696.0,507.0 698.0,507.7 700.0,508.5 702.0,509.6 704.0,510.2 706.0,511.0 708.0,511.4 710.0,511.8 712.0,512.3 714.0,512.8 716.0,513.4 718.0,513.9 720.0,514.0 722.0,514.2 724.0,514.7 726.0,514.7 728.0,515.2 730.0,515.2 732.0,514.7 734.0,514.9 736.0,514.1 738.0,513.4 740.0,513.0 742.0,512.7 744.0,512.9 746.0,513.3 748.0,513.9 750.0,514.1 752.0,514.8 754.0,515.2 756.0,515.5 758.0,516.2 760.0,516.0 762.0,516.0 764.0,515.9 766.0,516.0 768.0,516.3 770.0,516.6 772.0,516.5 774.0,516.3 776.0,515.9 778.0,515.8 780.0,515.3 782.0,515.0 784.0,514.5 786.0,514.0 788.0,514.7 790.0,515.2 792.0,516.1 794.0,517.2 796.0,517.9 798.0,518.4 800.0,518.8 802.0,518.7 804.0,519.1 806.0,519.0 808.0,518.9 810.0,518.9 812.0,518.7 814.0,518.9 816.0,518.7 818.0,519.1 820.0,519.3 822.0,519.2 824.0,519.1 826.0,519.0 828.0,519.0 830.0,518.8 832.0,519.3 834.0,518.8 836.0,518.8 838.0,518.8 840.0,518.9 842.0,519.0 844.0,519.0 846.0,519.0 848.0,519.0 850.0,519.1 852.0,518.8 854.0,519.2 856.0,518.8 858.0,518.8 860.0,518.8 862.0,518.1 864.0,518.4 866.0,518.7 868.0,518.6 870.0,518.3 872.0,517.9 874.0,517.2 876.0,516.9 878.0,516.8 880.0,515.9 882.0,515.3 884.0,514.7 886.0,514.4 888.0,515.7 890.0,516.7 892.0,518.4 894.0,519.3 896.0,519.3 898.0,519.8 900.0,519.8 902.0,520.1 904.0,520.2 906.0,520.4 908.0,520.5 910.0,520.5 912.0,520.7 914.0,520.9 916.0,520.9 918.0,520.9 920.0,521.1 922.0,520.9 924.0,521.1 926.0,521.3 928.0,521.6 930.0,521.9 932.0,521.7 934.0,521.8 936.0,521.9 938.0,521.9 940.0,522.4 942.0,522.4 944.0,522.2 946.0,522.3 948.0,522.2 950.0,522.0 952.0,522.4 954.0,522.2 956.0,522.4 958.0,522.6 960.0,522.4 962.0,522.4 964.0,522.5 966.0,522.8 968.0,522.7 970.0,523.0 972.0,522.9 974.0,522.8 976.0,523.2 978.0,523.1 980.0,523.1 982.0,523.5 984.0,523.3 986.0,523.2 988.0,523.0 990.0,522.4 992.0,521.9 994.0,521.5 996.0,521.1 998.0,521.0 1000.0,521.0 1002.0,520.8 1004.0,521.2 1006.0,521.2 1008.0,521.3 1010.0,521.7 1012.0,521.6 1014.0,521.5 1016.0,521.7 1018.0,521.3 1020.0,521.5 1022.0,521.9 1024.0,521.8 1026.0,522.0 1028.0,521.9 1030.0,521.9 1032.0,522.1 1034.0,522.6 1036.0,522.6 1038.0,522.8 1040.0,523.2 1042.0,523.3 1044.0,523.8 1046.0,523.8 1048.0,523.9 1050.0,524.0 1052.0,523.9 1054.0,523.9 1056.0,523.7 1058.0,523.8 1060.0,523.7 1062.0,523.9 1064.0,524.3 1066.0,524.4 1068.0,524.7 1070.0,524.7 1072.0,524.4 1074.0,524.4 1076.0,524.3 1078.0,524.5 1080.0,524.7 1082.0,524.7 1084.0,524.8 1086.0,524.7 1088.0,524.8 1090.0,524.7 1092.0,524.6 1094.0,524.6 1096.0,524.7 1098.0,524.5 1100.0,524.8 1102.0,524.7 1104.0,524.7 1106.0,524.8 1108.0,524.5 1110.0,524.8 1112.0,524.6 1114.0,524.5 1116.0,524.4 1118.0,524.1 1120.0,524.5 1122.0,524.7 1124.0,524.9 1126.0,524.8 1128.0,524.6 1130.0,524.6 1132.0,524.7 1134.0,524.8 1136.0,524.8 1138.0,524.8 1140.0,524.4 1142.0,524.5 1144.0,524.4 1146.0,523.9 1148.0,523.9 1150.0,523.7 1152.0,523.3 1154.0,523.0 1156.0,522.7 1158.0,522.3 1160.0,522.2 1162.0,522.3 1164.0,521.9 1166.0,522.0 1168.0,521.9 1170.0,521.8 1172.0,522.0 1174.0,522.1 1176.0,522.5 1178.0,522.8 1180.0,523.0 1182.0,523.3 1184.0,523.4 1186.0,523.5 1188.0,523.7 1190.0,524.0 1192.0,524.0 1194.0,524.3 1196.0,524.3 1198.0,524.7 1200.0,525.0 1202.0,525.1 1204.0,525.3 1206.0,525.3 1208.0,525.2 1210.0,525.2 1212.0,525.3 1214.0,525.1 1216.0,525.3 1218.0,525.3 1220.0,525.6 1222.0,525.5 1224.0,525.4 1226.0,525.3 1228.0,525.3 1230.0,525.4 1232.0,525.4 1234.0,525.7 1236.0,525.7 1238.0,525.6 1240.0,525.6 1242.0,525.4 1244.0,525.3 1246.0,525.5 1248.0,525.5 1250.0,525.7 1252.0,525.6 1254.0,525.6 1256.0,525.8 1258.0,526.1 1260.0,525.9 1262.0,526.0 1264.0,525.9 1266.0,525.8 1268.0,526.0 1270.0,526.0 1272.0,526.0 1274.0,526.0 1276.0,526.2 1278.0,526.2 1280.0,526.4 1282.0,526.3 1284.0,526.1 1286.0,526.3 1288.0,526.3 1290.0,526.3 1292.0,526.7 1294.0,526.8 1296.0,526.6 1298.0,526.6 1300.0,526.7 1302.0,526.7 1304.0,526.8 1306.0,526.7 1308.0,526.5 1310.0,526.2 1312.0,526.1 1314.0,526.3 1316.0,526.3 1318.0,526.2 1320.0,526.5 1322.0,526.5 1324.0,526.6 1326.0,526.9 1328.0,526.9 1330.0,527.0 1332.0,527.0 1334.0,526.8 1336.0,527.0 1338.0,527.1 1340.0,527.0 1342.0,527.1 1344.0,527.0 1346.0,527.0 1348.0,527.4 1350.0,527.6 1352.0,527.5 1354.0,527.4 1356.0,527.0 1358.0,526.9 1360.0,527.0 1362.0,527.4 1364.0,527.6 1366.0,527.3 1368.0,527.2 1370.0,526.9 1372.0,526.7 1374.0,526.9 1376.0,526.9 1378.0,527.0 1380.0,527.2 1382.0,527.2 1384.0,527.3 1386.0,527.2 1388.0,527.2 1390.0,527.2 1392.0,527.0 1394.0,527.2 1396.0,527.0 1398.0,527.2 1400.0,527.5 1402.0,527.3 1404.0,527.6 1406.0,527.5 1408.0,527.6 1410.0,527.8 1412.0,527.8 1414.0,527.8 1416.0,527.5 1418.0,527.5 1420.0,527.7 1422.0,528.0 1424.0,528.3 1426.0,528.1 1428.0,527.9 1430.0,527.9 1432.0,527.8 1434.0,527.7 1436.0,527.9 1438.0,528.1 1440.0,527.9 1442.0,527.9 1444.0,527.9 1446.0,527.6 1448.0,527.5 1450.0,527.8 1452.0,527.8 1454.0,527.8 1456.0,528.5 1458.0,528.4 1460.0,528.3 1462.0,528.4 1464.0,528.0 1466.0,527.9 1468.0,528.1 1470.0,528.0 1472.0,528.1 1474.0,528.5 1476.0,528.6 1478.0,528.8 1480.0,528.9 1482.0,528.8 1484.0,528.9 1486.0,528.8 1488.0,529.0 1490.0,528.8 1492.0,528.6 1494.0,528.5 1496.0,528.2 1498.0,528.4 1500.0,528.7 1502.0,528.8 1504.0,528.8 1506.0,528.8 1506.6,528.5 1510.6,528.5" fill="none" stroke="#0000ff" stroke-width="6.4" stroke-linejoin="round" stroke-linecap="butt" shape-rendering="crispEdges" clip-path="url(#cp)"/>
<polyline points="142.0,296.4 146.0,296.4 148.0,296.5 150.0,296.2 152.0,296.0 154.0,295.4 156.0,294.6 158.0,294.2 160.0,294.0 162.0,293.2 164.0,293.2 166.0,293.0 168.0,293.1 170.0,293.2 172.0,293.1 174.0,293.3 176.0,292.1 178.0,291.8 180.0,291.7 182.0,292.1 184.0,293.6 186.0,294.0 188.0,294.1 190.0,294.1 192.0,293.4 194.0,292.7 196.0,292.2 198.0,291.0 200.0,289.5 202.0,288.8 204.0,288.0 206.0,287.4 208.0,287.9 210.0,287.0 212.0,286.2 214.0,285.9 216.0,285.7 218.0,286.3 220.0,287.2 222.0,286.8 224.0,287.1 226.0,286.5 228.0,286.2 230.0,286.2 232.0,285.5 234.0,285.2 236.0,284.3 238.0,283.3 240.0,282.1 242.0,281.2 244.0,280.8 246.0,279.6 248.0,278.0 250.0,276.1 252.0,274.2 254.0,273.2 256.0,272.1 258.0,271.3 260.0,271.0 262.0,270.1 264.0,269.6 266.0,269.1 268.0,268.3 270.0,267.4 272.0,267.3 274.0,265.8 276.0,264.2 278.0,262.6 280.0,260.7 282.0,259.3 284.0,258.5 286.0,257.7 288.0,256.6 290.0,255.8 292.0,254.8 294.0,252.5 296.0,250.5 298.0,248.2 300.0,245.9 302.0,243.3 304.0,241.0 306.0,238.9 308.0,236.7 310.0,235.4 312.0,234.0 314.0,231.7 316.0,229.7 318.0,227.3 320.0,224.4 322.0,222.6 324.0,219.8 326.0,217.2 328.0,215.5 330.0,213.5 332.0,212.7 334.0,212.8 336.0,212.5 338.0,212.9 340.0,212.3 342.0,210.1 344.0,207.1 346.0,203.8 348.0,201.9 350.0,201.7 352.0,201.1 354.0,200.3 356.0,200.5 358.0,200.1 360.0,200.3 362.0,201.2 364.0,201.9 366.0,203.0 368.0,204.4 370.0,205.7 372.0,206.9 374.0,208.4 376.0,209.5 378.0,211.3 380.0,213.1 382.0,214.7 384.0,215.9 386.0,217.2 388.0,218.2 390.0,218.9 392.0,220.9 394.0,224.0 396.0,228.0 398.0,231.4 400.0,234.0 402.0,235.6 404.0,237.4 406.0,238.9 408.0,240.6 410.0,243.0 412.0,245.8 414.0,248.0 416.0,250.3 418.0,252.3 420.0,254.8 422.0,257.8 424.0,260.2 426.0,262.0 428.0,262.7 430.0,263.8 432.0,264.9 434.0,265.6 436.0,267.3 438.0,269.7 440.0,272.5 442.0,275.5 444.0,277.6 446.0,279.4 448.0,281.1 450.0,282.8 452.0,284.6 454.0,285.8 456.0,287.0 458.0,287.9 460.0,288.8 462.0,290.0 464.0,291.4 466.0,292.7 468.0,294.5 470.0,295.6 472.0,296.6 474.0,297.5 476.0,298.3 478.0,300.4 480.0,301.6 482.0,302.9 484.0,304.1 486.0,304.7 488.0,306.0 490.0,307.0 492.0,307.4 494.0,308.1 496.0,308.7 498.0,309.6 500.0,311.3 502.0,312.3 504.0,313.3 506.0,313.8 508.0,314.5 510.0,315.9 512.0,316.7 514.0,318.0 516.0,318.6 518.0,319.4 520.0,319.7 522.0,320.4 524.0,321.2 526.0,321.7 528.0,322.5 530.0,323.4 532.0,323.9 534.0,324.4 536.0,325.1 538.0,325.4 540.0,326.1 542.0,326.9 544.0,327.2 546.0,328.0 548.0,328.6 550.0,328.5 552.0,329.3 554.0,329.5 556.0,330.1 558.0,331.4 560.0,331.9 562.0,332.4 564.0,332.7 566.0,332.7 568.0,332.7 570.0,333.4 572.0,333.4 574.0,333.9 576.0,334.2 578.0,334.5 580.0,335.2 582.0,335.2 584.0,335.6 586.0,335.8 588.0,336.1 590.0,336.6 592.0,336.8 594.0,336.5 596.0,337.0 598.0,337.4 600.0,337.8 602.0,338.5 604.0,338.9 606.0,338.9 608.0,339.1 610.0,339.3 612.0,339.7 614.0,339.8 616.0,340.5 618.0,340.7 620.0,340.5 622.0,341.3 624.0,341.4 626.0,341.6 628.0,342.0 630.0,342.3 632.0,342.9 634.0,343.3 636.0,343.8 638.0,344.1 640.0,344.1 642.0,344.5 644.0,344.8 646.0,344.8 648.0,345.2 650.0,345.4 652.0,345.7 654.0,346.0 656.0,346.2 658.0,346.7 660.0,347.0 662.0,347.5 664.0,348.0 666.0,348.1 668.0,348.6 670.0,348.5 672.0,348.6 674.0,348.6 676.0,348.6 678.0,349.2 680.0,348.9 682.0,348.9 684.0,348.8 686.0,348.8 688.0,349.4 690.0,349.8 692.0,349.9 694.0,350.1 696.0,350.1 698.0,350.5 700.0,350.2 702.0,350.4 704.0,350.4 706.0,350.6 708.0,351.2 710.0,351.1 712.0,351.6 714.0,351.4 716.0,351.5 718.0,351.6 720.0,351.7 722.0,352.2 724.0,352.7 726.0,353.1 728.0,353.5 730.0,353.6 732.0,353.5 734.0,353.8 736.0,353.9 738.0,354.0 740.0,354.0 742.0,354.0 744.0,353.9 746.0,353.9 748.0,354.2 750.0,354.2 752.0,354.3 754.0,354.4 756.0,354.4 758.0,354.6 760.0,354.5 762.0,355.1 764.0,355.1 766.0,355.5 768.0,355.8 770.0,355.3 772.0,355.2 774.0,355.0 776.0,354.9 778.0,355.1 780.0,355.2 782.0,354.8 784.0,354.8 786.0,354.5 788.0,354.6 790.0,354.9 792.0,354.8 794.0,355.3 796.0,355.3 798.0,355.2 800.0,355.1 802.0,355.0 804.0,354.6 806.0,354.7 808.0,355.4 810.0,355.4 812.0,356.0 814.0,355.9 816.0,355.8 818.0,355.9 820.0,355.9 822.0,356.3 824.0,356.6 826.0,356.8 828.0,356.8 830.0,356.6 832.0,356.4 834.0,356.4 836.0,356.6 838.0,356.9 840.0,357.1 842.0,356.9 844.0,356.7 846.0,357.0 848.0,356.7 850.0,357.0 852.0,357.0 854.0,356.7 856.0,356.8 858.0,357.5 860.0,357.9 862.0,358.0 864.0,357.9 866.0,357.4 868.0,357.5 870.0,357.6 872.0,357.7 874.0,358.0 876.0,358.1 878.0,358.2 880.0,358.2 882.0,357.8 884.0,357.6 886.0,357.3 888.0,357.7 890.0,358.0 892.0,358.3 894.0,359.1 896.0,359.3 898.0,359.2 900.0,359.2 902.0,359.2 904.0,359.0 906.0,359.1 908.0,359.1 910.0,358.8 912.0,359.1 914.0,359.0 916.0,358.9 918.0,359.1 920.0,359.0 922.0,359.4 924.0,359.6 926.0,359.6 928.0,359.9 930.0,359.6 932.0,359.6 934.0,359.6 936.0,359.5 938.0,359.9 940.0,359.8 942.0,359.8 944.0,359.9 946.0,360.0 948.0,360.1 950.0,360.5 952.0,360.7 954.0,360.5 956.0,360.7 958.0,360.8 960.0,360.6 962.0,360.8 964.0,360.8 966.0,360.4 968.0,360.3 970.0,360.3 972.0,360.4 974.0,360.5 976.0,360.5 978.0,360.4 980.0,360.4 982.0,360.3 984.0,360.4 986.0,360.7 988.0,360.8 990.0,361.0 992.0,361.2 994.0,361.1 996.0,361.0 998.0,361.0 1000.0,361.0 1002.0,360.9 1004.0,361.2 1006.0,361.2 1008.0,361.1 1010.0,361.2 1012.0,361.0 1014.0,361.0 1016.0,361.1 1018.0,361.3 1020.0,361.3 1022.0,361.1 1024.0,361.1 1026.0,360.7 1028.0,360.8 1030.0,361.3 1032.0,361.5 1034.0,361.7 1036.0,361.6 1038.0,361.7 1040.0,361.7 1042.0,361.9 1044.0,362.2 1046.0,362.3 1048.0,362.5 1050.0,362.6 1052.0,362.5 1054.0,362.3 1056.0,362.1 1058.0,362.0 1060.0,362.0 1062.0,361.8 1064.0,361.9 1066.0,362.1 1068.0,362.4 1070.0,362.5 1072.0,362.5 1074.0,362.5 1076.0,362.3 1078.0,362.5 1080.0,362.5 1082.0,362.5 1084.0,362.2 1086.0,362.0 1088.0,362.2 1090.0,362.3 1092.0,362.4 1094.0,362.5 1096.0,362.5 1098.0,362.6 1100.0,362.6 1102.0,362.7 1104.0,362.5 1106.0,362.3 1108.0,362.6 1110.0,362.3 1112.0,362.6 1114.0,362.8 1116.0,362.5 1118.0,362.7 1120.0,362.8 1122.0,362.8 1124.0,362.8 1126.0,362.7 1128.0,362.7 1130.0,362.6 1132.0,362.6 1134.0,362.9 1136.0,363.0 1138.0,363.2 1140.0,363.3 1142.0,363.4 1144.0,363.5 1146.0,363.5 1148.0,363.8 1150.0,363.6 1152.0,363.5 1154.0,363.5 1156.0,363.1 1158.0,363.2 1160.0,363.1 1162.0,363.0 1164.0,363.0 1166.0,362.8 1168.0,362.9 1170.0,363.1 1172.0,363.5 1174.0,363.6 1176.0,363.6 1178.0,363.4 1180.0,363.3 1182.0,363.3 1184.0,363.4 1186.0,363.8 1188.0,363.7 1190.0,363.6 1192.0,363.4 1194.0,363.0 1196.0,362.8 1198.0,363.2 1200.0,363.4 1202.0,363.4 1204.0,363.6 1206.0,363.6 1208.0,363.6 1210.0,363.7 1212.0,363.6 1214.0,363.4 1216.0,363.6 1218.0,363.9 1220.0,364.1 1222.0,364.2 1224.0,364.3 1226.0,364.3 1228.0,363.9 1230.0,363.7 1232.0,363.6 1234.0,363.5 1236.0,363.8 1238.0,363.8 1240.0,363.7 1242.0,363.9 1244.0,363.9 1246.0,364.0 1248.0,364.2 1250.0,364.2 1252.0,364.2 1254.0,363.8 1256.0,363.6 1258.0,363.5 1260.0,363.3 1262.0,363.7 1264.0,363.9 1266.0,363.9 1268.0,363.9 1270.0,364.2 1272.0,364.0 1274.0,363.9 1276.0,364.1 1278.0,363.9 1280.0,363.9 1282.0,364.2 1284.0,364.1 1286.0,363.9 1288.0,364.1 1290.0,364.1 1292.0,364.1 1294.0,364.2 1296.0,364.2 1298.0,364.5 1300.0,364.5 1302.0,364.7 1304.0,364.7 1306.0,364.3 1308.0,364.5 1310.0,364.5 1312.0,364.7 1314.0,364.7 1316.0,364.6 1318.0,364.4 1320.0,364.3 1322.0,364.4 1324.0,364.7 1326.0,364.8 1328.0,364.9 1330.0,365.0 1332.0,364.9 1334.0,364.6 1336.0,364.4 1338.0,364.0 1340.0,364.2 1342.0,364.3 1344.0,364.6 1346.0,364.9 1348.0,365.0 1350.0,365.2 1352.0,365.1 1354.0,365.0 1356.0,364.8 1358.0,364.7 1360.0,364.6 1362.0,364.7 1364.0,364.9 1366.0,364.7 1368.0,364.8 1370.0,364.7 1372.0,364.5 1374.0,364.9 1376.0,364.8 1378.0,365.1 1380.0,364.9 1382.0,364.9 1384.0,364.9 1386.0,364.9 1388.0,365.1 1390.0,364.6 1392.0,364.6 1394.0,364.6 1396.0,364.8 1398.0,365.2 1400.0,365.3 1402.0,365.1 1404.0,365.1 1406.0,365.4 1408.0,365.4 1410.0,365.5 1412.0,365.1 1414.0,365.0 1416.0,365.4 1418.0,365.5 1420.0,365.9 1422.0,365.9 1424.0,365.4 1426.0,365.5 1428.0,365.2 1430.0,365.2 1432.0,365.3 1434.0,365.3 1436.0,365.5 1438.0,365.6 1440.0,365.5 1442.0,365.2 1444.0,365.2 1446.0,365.1 1448.0,365.0 1450.0,365.1 1452.0,365.0 1454.0,364.9 1456.0,364.9 1458.0,364.8 1460.0,365.0 1462.0,365.3 1464.0,365.7 1466.0,365.8 1468.0,365.7 1470.0,365.8 1472.0,365.5 1474.0,365.7 1476.0,366.0 1478.0,365.8 1480.0,365.7 1482.0,365.6 1484.0,365.5 1486.0,365.6 1488.0,365.6 1490.0,365.6 1492.0,365.7 1494.0,365.7 1496.0,365.8 1498.0,366.1 1500.0,366.1 1502.0,365.8 1504.0,365.9 1506.0,365.8 1506.6,365.7 1510.6,365.7" fill="none" stroke="#00ffff" stroke-width="6.4" stroke-linejoin="round" stroke-linecap="butt" shape-rendering="crispEdges" clip-path="url(#cp)"/>
<polyline points="142.0,144.2 146.0,144.2 148.0,143.7 150.0,143.9 152.0,143.4 154.0,143.0 156.0,142.6 158.0,141.8 160.0,141.5 162.0,141.0 164.0,140.4 166.0,140.1 168.0,139.3 170.0,139.0 172.0,138.1 174.0,137.1 176.0,136.6 178.0,136.4 180.0,136.3 182.0,136.4 184.0,136.8 186.0,136.5 188.0,135.8 190.0,135.2 192.0,134.9 194.0,134.7 196.0,134.7 198.0,134.5 200.0,133.9 202.0,133.3 204.0,133.9 206.0,133.5 208.0,133.6 210.0,133.8 212.0,133.0 214.0,133.0 216.0,132.7 218.0,132.2 220.0,131.6 222.0,131.4 224.0,131.5 226.0,130.7 228.0,131.1 230.0,130.8 232.0,129.9 234.0,130.7 236.0,130.3 238.0,129.4 240.0,129.2 242.0,128.2 244.0,127.3 246.0,127.1 248.0,126.0 250.0,124.7 252.0,124.0 254.0,122.3 256.0,121.2 258.0,119.9 260.0,118.5 262.0,117.4 264.0,116.3 266.0,115.5 268.0,114.8 270.0,114.7 272.0,113.5 274.0,112.4 276.0,111.4 278.0,109.5 280.0,108.8 282.0,108.1 284.0,107.4 286.0,107.2 288.0,106.2 290.0,104.9 292.0,103.0 294.0,101.7 296.0,100.0 298.0,98.2 300.0,96.5 302.0,94.1 304.0,92.3 306.0,90.3 308.0,88.5 310.0,86.7 312.0,85.5 314.0,84.4 316.0,82.8 318.0,81.6 320.0,79.6 322.0,78.3 324.0,76.9 326.0,75.6 328.0,74.1 330.0,72.5 332.0,70.5 334.0,67.9 336.0,65.7 338.0,62.3 340.0,60.5 342.0,60.9 344.0,60.4 346.0,60.1 348.0,59.9 350.0,59.2 352.0,59.4 354.0,59.6 356.0,59.8 358.0,60.0 360.0,60.0 362.0,60.3 364.0,60.4 366.0,60.3 368.0,61.4 370.0,62.0 372.0,63.4 374.0,65.0 376.0,66.2 378.0,67.4 380.0,68.3 382.0,68.8 384.0,69.8 386.0,71.6 388.0,72.6 390.0,75.3 392.0,77.5 394.0,81.0 396.0,84.7 398.0,87.3 400.0,89.3 402.0,89.6 404.0,91.3 406.0,93.1 408.0,96.4 410.0,100.8 412.0,103.3 414.0,104.6 416.0,106.6 418.0,108.1 420.0,110.0 422.0,112.1 424.0,113.3 426.0,113.9 428.0,114.7 430.0,115.2 432.0,115.8 434.0,116.3 436.0,115.6 438.0,115.5 440.0,115.0 442.0,115.2 444.0,116.9 446.0,119.3 448.0,121.5 450.0,124.3 452.0,127.9 454.0,130.4 456.0,132.9 458.0,135.8 460.0,138.6 462.0,141.2 464.0,144.0 466.0,145.8 468.0,146.7 470.0,149.2 472.0,150.9 474.0,152.4 476.0,153.7 478.0,154.4 480.0,154.7 482.0,155.2 484.0,155.6 486.0,155.7 488.0,157.3 490.0,158.4 492.0,160.1 494.0,161.7 496.0,162.3 498.0,163.2 500.0,164.3 502.0,165.1 504.0,166.0 506.0,167.0 508.0,167.9 510.0,168.8 512.0,169.4 514.0,169.5 516.0,168.9 518.0,169.2 520.0,169.7 522.0,170.2 524.0,171.2 526.0,171.6 528.0,172.0 530.0,172.9 532.0,173.1 534.0,173.9 536.0,173.8 538.0,174.3 540.0,175.2 542.0,175.5 544.0,177.1 546.0,177.8 548.0,177.8 550.0,177.5 552.0,177.7 554.0,177.4 556.0,178.3 558.0,179.7 560.0,179.6 562.0,179.9 564.0,180.4 566.0,180.7 568.0,181.5 570.0,182.3 572.0,182.4 574.0,182.5 576.0,182.8 578.0,182.9 580.0,183.0 582.0,183.8 584.0,184.1 586.0,184.7 588.0,185.1 590.0,185.1 592.0,185.1 594.0,185.1 596.0,185.6 598.0,185.8 600.0,186.3 602.0,186.8 604.0,187.5 606.0,187.5 608.0,187.9 610.0,188.0 612.0,187.8 614.0,188.0 616.0,187.9 618.0,188.3 620.0,188.5 622.0,189.0 624.0,189.3 626.0,189.6 628.0,189.8 630.0,189.5 632.0,189.6 634.0,189.1 636.0,188.6 638.0,189.2 640.0,189.8 642.0,190.4 644.0,191.0 646.0,191.1 648.0,191.2 650.0,191.4 652.0,191.9 654.0,192.2 656.0,192.2 658.0,192.5 660.0,192.8 662.0,193.0 664.0,192.9 666.0,193.0 668.0,193.0 670.0,193.3 672.0,193.4 674.0,193.5 676.0,193.8 678.0,193.5 680.0,194.3 682.0,194.8 684.0,194.9 686.0,195.6 688.0,195.5 690.0,194.8 692.0,195.2 694.0,195.2 696.0,195.4 698.0,196.0 700.0,196.1 702.0,196.3 704.0,196.8 706.0,197.4 708.0,197.7 710.0,198.3 712.0,198.2 714.0,198.3 716.0,198.1 718.0,198.4 720.0,198.9 722.0,199.4 724.0,200.2 726.0,200.1 728.0,200.1 730.0,200.1 732.0,200.1 734.0,200.3 736.0,200.7 738.0,201.0 740.0,201.2 742.0,201.2 744.0,200.8 746.0,201.2 748.0,201.4 750.0,201.7 752.0,201.9 754.0,201.4 756.0,201.4 758.0,201.7 760.0,201.8 762.0,202.1 764.0,202.2 766.0,202.1 768.0,201.9 770.0,202.0 772.0,201.9 774.0,202.1 776.0,202.3 778.0,202.5 780.0,203.0 782.0,202.7 784.0,202.7 786.0,202.5 788.0,202.1 790.0,201.9 792.0,202.0 794.0,202.3 796.0,202.2 798.0,202.2 800.0,201.8 802.0,201.4 804.0,201.1 806.0,200.9 808.0,201.3 810.0,201.1 812.0,201.6 814.0,202.2 816.0,202.0 818.0,202.4 820.0,202.7 822.0,202.4 824.0,202.3 826.0,202.0 828.0,201.7 830.0,202.2 832.0,202.7 834.0,202.9 836.0,202.8 838.0,202.5 840.0,202.5 842.0,202.8 844.0,203.2 846.0,203.5 848.0,203.5 850.0,203.6 852.0,203.7 854.0,203.7 856.0,203.9 858.0,204.4 860.0,204.6 862.0,204.7 864.0,204.2 866.0,204.0 868.0,203.5 870.0,203.2 872.0,203.9 874.0,204.0 876.0,204.4 878.0,204.4 880.0,204.2 882.0,204.0 884.0,204.2 886.0,205.1 888.0,205.3 890.0,205.3 892.0,204.9 894.0,204.5 896.0,204.4 898.0,204.4 900.0,204.8 902.0,204.7 904.0,204.9 906.0,205.3 908.0,205.5 910.0,205.6 912.0,205.6 914.0,205.4 916.0,205.3 918.0,205.3 920.0,205.1 922.0,204.9 924.0,205.1 926.0,205.2 928.0,205.4 930.0,205.8 932.0,205.5 934.0,205.4 936.0,205.5 938.0,205.4 940.0,205.6 942.0,205.9 944.0,206.0 946.0,205.8 948.0,205.7 950.0,205.7 952.0,205.8 954.0,205.7 956.0,206.1 958.0,206.1 960.0,206.2 962.0,206.5 964.0,206.3 966.0,206.0 968.0,206.2 970.0,206.3 972.0,206.6 974.0,206.7 976.0,206.4 978.0,206.2 980.0,205.9 982.0,206.2 984.0,206.0 986.0,206.4 988.0,206.6 990.0,206.3 992.0,206.4 994.0,206.2 996.0,206.2 998.0,206.3 1000.0,206.3 1002.0,206.3 1004.0,206.2 1006.0,206.1 1008.0,206.2 1010.0,206.4 1012.0,206.4 1014.0,206.6 1016.0,206.6 1018.0,206.3 1020.0,206.7 1022.0,206.6 1024.0,207.0 1026.0,207.0 1028.0,207.0 1030.0,207.1 1032.0,206.7 1034.0,207.0 1036.0,206.9 1038.0,207.1 1040.0,207.2 1042.0,207.0 1044.0,207.0 1046.0,206.9 1048.0,207.1 1050.0,207.2 1052.0,207.2 1054.0,207.0 1056.0,206.9 1058.0,206.9 1060.0,206.7 1062.0,207.0 1064.0,207.1 1066.0,207.0 1068.0,207.1 1070.0,207.1 1072.0,206.7 1074.0,207.1 1076.0,207.1 1078.0,207.1 1080.0,207.4 1082.0,207.3 1084.0,207.5 1086.0,207.5 1088.0,207.2 1090.0,207.1 1092.0,207.3 1094.0,207.4 1096.0,207.7 1098.0,208.0 1100.0,207.7 1102.0,207.8 1104.0,208.1 1106.0,207.9 1108.0,207.7 1110.0,207.6 1112.0,207.1 1114.0,207.4 1116.0,207.8 1118.0,207.8 1120.0,207.8 1122.0,207.7 1124.0,207.8 1126.0,207.5 1128.0,207.8 1130.0,207.7 1132.0,207.7 1134.0,208.0 1136.0,207.9 1138.0,207.8 1140.0,207.5 1142.0,207.9 1144.0,208.1 1146.0,208.3 1148.0,208.3 1150.0,207.8 1152.0,207.7 1154.0,207.7 1156.0,207.9 1158.0,208.2 1160.0,208.1 1162.0,208.1 1164.0,208.1 1166.0,208.3 1168.0,208.8 1170.0,208.8 1172.0,208.7 1174.0,208.5 1176.0,208.2 1178.0,208.1 1180.0,208.2 1182.0,208.1 1184.0,208.3 1186.0,208.4 1188.0,208.4 1190.0,208.6 1192.0,208.4 1194.0,208.3 1196.0,208.2 1198.0,208.2 1200.0,208.3 1202.0,208.5 1204.0,208.4 1206.0,208.5 1208.0,208.2 1210.0,208.2 1212.0,208.3 1214.0,208.0 1216.0,208.3 1218.0,208.4 1220.0,208.4 1222.0,208.7 1224.0,208.6 1226.0,208.5 1228.0,208.5 1230.0,208.5 1232.0,208.5 1234.0,208.5 1236.0,208.6 1238.0,208.7 1240.0,208.7 1242.0,208.8 1244.0,208.9 1246.0,208.6 1248.0,208.8 1250.0,208.9 1252.0,208.8 1254.0,209.2 1256.0,209.0 1258.0,208.9 1260.0,209.0 1262.0,209.0 1264.0,209.2 1266.0,209.0 1268.0,209.0 1270.0,209.1 1272.0,209.3 1274.0,209.5 1276.0,209.2 1278.0,209.2 1280.0,209.1 1282.0,208.7 1284.0,209.0 1286.0,208.6 1288.0,208.4 1290.0,208.7 1292.0,208.9 1294.0,209.1 1296.0,209.3 1298.0,209.7 1300.0,209.8 1302.0,209.8 1304.0,209.7 1306.0,209.3 1308.0,209.0 1310.0,209.1 1312.0,209.2 1314.0,209.4 1316.0,209.7 1318.0,209.5 1320.0,209.4 1322.0,209.6 1324.0,209.5 1326.0,209.8 1328.0,209.9 1330.0,209.7 1332.0,209.7 1334.0,209.4 1336.0,209.1 1338.0,209.3 1340.0,209.2 1342.0,209.4 1344.0,209.4 1346.0,209.3 1348.0,209.2 1350.0,209.1 1352.0,209.0 1354.0,209.0 1356.0,209.3 1358.0,209.5 1360.0,209.7 1362.0,209.8 1364.0,209.8 1366.0,209.3 1368.0,209.4 1370.0,209.5 1372.0,209.5 1374.0,210.2 1376.0,210.4 1378.0,210.4 1380.0,210.3 1382.0,210.2 1384.0,209.9 1386.0,209.9 1388.0,210.0 1390.0,210.2 1392.0,210.3 1394.0,210.3 1396.0,210.2 1398.0,210.1 1400.0,210.1 1402.0,210.4 1404.0,210.2 1406.0,210.0 1408.0,210.0 1410.0,209.9 1412.0,210.2 1414.0,210.0 1416.0,209.9 1418.0,209.9 1420.0,209.6 1422.0,209.6 1424.0,209.9 1426.0,210.0 1428.0,210.1 1430.0,210.3 1432.0,210.3 1434.0,210.2 1436.0,210.3 1438.0,210.3 1440.0,210.0 1442.0,210.1 1444.0,209.8 1446.0,210.1 1448.0,210.3 1450.0,210.1 1452.0,210.2 1454.0,210.1 1456.0,210.2 1458.0,210.2 1460.0,210.2 1462.0,210.4 1464.0,210.6 1466.0,211.0 1468.0,211.1 1470.0,211.0 1472.0,210.9 1474.0,210.6 1476.0,210.4 1478.0,210.4 1480.0,210.3 1482.0,210.2 1484.0,210.1 1486.0,209.9 1488.0,209.9 1490.0,209.9 1492.0,210.2 1494.0,210.4 1496.0,210.4 1498.0,210.5 1500.0,210.6 1502.0,210.5 1504.0,210.3 1506.0,210.2 1506.6,210.3 1510.6,210.3" fill="none" stroke="#ff00ff" stroke-width="6.4" stroke-linejoin="round" stroke-linecap="butt" shape-rendering="crispEdges" clip-path="url(#cp)"/>
<g stroke="#000" stroke-width="6.5" stroke-linecap="round" fill="none" stroke-dasharray="18.5 28.3" shape-rendering="crispEdges">
<line x1="688.6" y1="162.5" x2="688.9" y2="967.5"/>
<line x1="875.8" y1="169.5" x2="877.8" y2="974.5"/>
<line x1="1011" y1="164" x2="1013" y2="976.5"/>
</g>
<g stroke="#000" stroke-width="6" stroke-linecap="round" fill="none" stroke-dasharray="20 26.9" shape-rendering="crispEdges">
<path d="M417 89.8 V70 H437" stroke-dasharray="none" stroke-linejoin="miter"/>
<line x1="417" y1="116.9" x2="417" y2="969.9"/>
<line x1="476" y1="105" x2="476" y2="969.9"/>
<line x1="463.8" y1="70" x2="476" y2="77.8"/>
<line x1="429" y1="970" x2="450" y2="970"/>
</g>
<g font-family="'Liberation Serif', 'Times New Roman', serif" fill="#000">
<text transform="translate(1485.2 172) scale(0.999 1)" font-size="52" text-anchor="end">(f) Calcined keratin char-TiO</text>
<text x="1483.9" y="189.8" font-size="33">2</text>
<text transform="translate(1479.3 330.3) scale(1.002 1)" font-size="52" text-anchor="end">(e) Keratin char-TiO</text>
<text x="1478.0" y="348.1" font-size="33">2</text>
<text transform="translate(1478.8 484.7) scale(1.004 1)" font-size="52" text-anchor="end">(d) Calcined TiO</text>
<text x="1477.5" y="502.5" font-size="33">2</text>
<text transform="translate(1473.1 633.7) scale(1.02 1)" font-size="52" text-anchor="end">(c) TiO</text>
<text x="1471.8" y="651.5" font-size="33">2</text>
<text transform="translate(1488.5 801.5) scale(0.991 1)" font-size="52" text-anchor="end">(b) Blank</text>
<text transform="translate(1485.7 911.2) scale(1.013 1)" font-size="52" text-anchor="end">(a) Anatase TiO</text>
<text x="1484.4" y="929.0" font-size="33">2</text>
<text x="146.5" y="1068" font-size="65" text-anchor="middle">10</text>
<text x="340.8" y="1068" font-size="65" text-anchor="middle">20</text>
<text x="535.1" y="1068" font-size="65" text-anchor="middle">30</text>
<text x="729.4" y="1068" font-size="65" text-anchor="middle">40</text>
<text x="923.6" y="1068" font-size="65" text-anchor="middle">50</text>
<text x="1117.9" y="1068" font-size="65" text-anchor="middle">60</text>
<text x="1312.2" y="1068" font-size="65" text-anchor="middle">70</text>
<text x="1506.5" y="1068" font-size="65" text-anchor="middle">80</text>
<text transform="translate(651.5 1169) scale(1.04 1)" font-size="82">2</text>
<text transform="translate(701.3 1169) scale(1.22 1)" font-size="82" font-style="italic">θ</text>
<text transform="translate(759 1169) scale(1.027 1)" font-size="82">(degree)</text>
<text transform="translate(75.5 538.5) rotate(-90) scale(1.024 1)" font-size="82" text-anchor="middle">Intensity (a.u.)</text>
</g>
</svg>
</body></html>
